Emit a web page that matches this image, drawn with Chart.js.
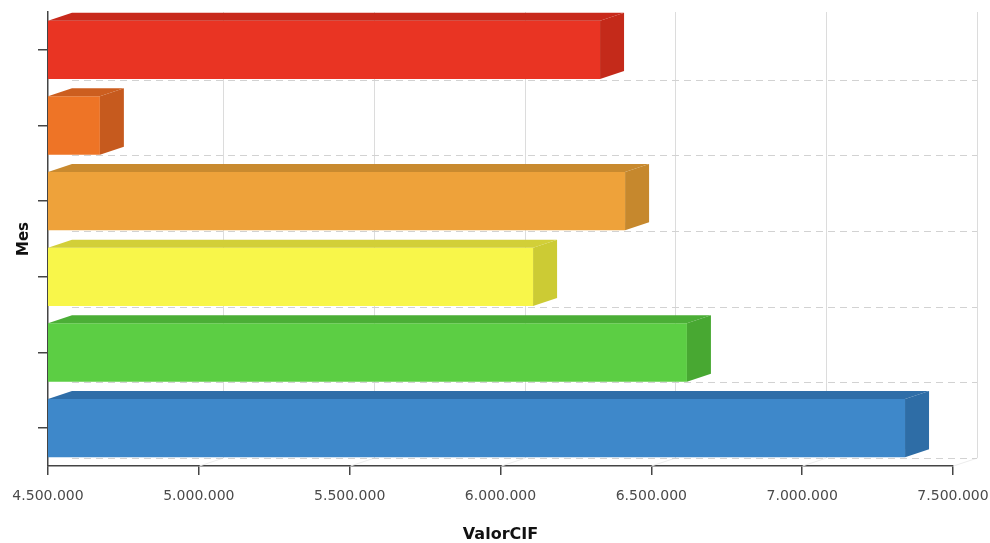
<!doctype html>
<html lang="es">
  <head>
    <meta charset="utf-8">
    <title>ValorCIF por Mes</title>
    <style>
      * {
        margin: 0;
        padding: 0;
      }
      body {
        background: #fff;
      }
    </style>
  </head>
  <body>
    <canvas id="myChart" width="990" height="543"></canvas>
    <script src="https://cdn.jsdelivr.net/npm/chart.js/dist/chart.umd.min.js"></script>
    <script>
    // data
    const meses = ['Enero', 'Febrero', 'Marzo', 'Abril', 'Mayo', 'Junio']
    const valorCIF = [6330000, 4672000, 6413000, 6108000, 6618000, 7341000]
    const xTicks = [4500000, 5000000, 5500000, 6000000, 6500000, 7000000, 7500000]

    // colours: front face, top face, side face
    const frontColors = ['#e93423', '#ee7426', '#eea23a', '#f8f64a', '#5cce44', '#3e88ca']
    const topColors = ['#c8291b', '#cc5e1f', '#c98a2f', '#d2cf38', '#4bae36', '#2f6ea8']
    const sideColors = ['#c42a1a', '#c65a1e', '#c6882d', '#cccb34', '#48a832', '#2e6da6']

    // 3d depth offset
    const DX = 24
    const DY = -8

    const fmt = v => String(v).replace(/\B(?=(\d{3})+(?!\d))/g, '.')

    const depth3d = {
      id: 'depth3d',
      beforeDatasetsDraw(chart) {
        const { ctx, chartArea: a, scales: { x, y } } = chart
        ctx.save()
        ctx.lineWidth = 1

        // back wall vertical grid
        ctx.strokeStyle = '#dcdcdc'
        ctx.beginPath()
        xTicks.forEach(v => {
          const px = Math.round(x.getPixelForValue(v)) + 0.5
          if (px <= a.left + 1) return
          ctx.moveTo(px + DX, a.top)
          ctx.lineTo(px + DX, a.bottom + DY)
        })
        ctx.stroke()

        // floor edges, very faint
        ctx.strokeStyle = '#ececec'
        ctx.beginPath()
        xTicks.forEach(v => {
          const px = Math.round(x.getPixelForValue(v)) + 0.5
          if (px <= a.left + 1) return
          ctx.moveTo(px + DX, a.bottom + DY)
          ctx.lineTo(px, a.bottom)
        })
        ctx.stroke()

        // dashed lines between categories, on the back wall
        const band = (a.bottom - a.top) / meses.length
        ctx.strokeStyle = '#d2d2d2'
        ctx.setLineDash([7, 5])
        ctx.beginPath()
        meses.forEach((m, i) => {
          const py = Math.round(y.getPixelForValue(i) + band / 2 + DY) + 0.5
          ctx.moveTo(a.left + DX, py)
          ctx.lineTo(a.right + DX, py)
        })
        ctx.stroke()
        ctx.restore()
      },
      afterDatasetsDraw(chart) {
        const { ctx, chartArea: a } = chart
        const meta = chart.getDatasetMeta(0)
        ctx.save()
        meta.data.forEach((bar, i) => {
          const { x: right, y: cy, base, height } = bar.getProps(['x', 'y', 'base', 'height'], true)
          const left = Math.max(base, a.left)
          const top = cy - height / 2
          const bottom = cy + height / 2

          // top face
          ctx.fillStyle = topColors[i]
          ctx.beginPath()
          ctx.moveTo(left, top)
          ctx.lineTo(left + DX, top + DY)
          ctx.lineTo(right + DX, top + DY)
          ctx.lineTo(right, top)
          ctx.closePath()
          ctx.fill()

          // side face
          ctx.fillStyle = sideColors[i]
          ctx.beginPath()
          ctx.moveTo(right, top)
          ctx.lineTo(right + DX, top + DY)
          ctx.lineTo(right + DX, bottom + DY)
          ctx.lineTo(right, bottom)
          ctx.closePath()
          ctx.fill()
        })
        ctx.restore()
      }
    }

    const data = {
      labels: meses,
      datasets: [{
        label: 'ValorCIF',
        data: valorCIF,
        backgroundColor: frontColors,
        borderWidth: 0,
        barPercentage: 0.77,
        categoryPercentage: 1
      }]
    }

    const config = {
      type: 'bar',
      data,
      options: {
        indexAxis: 'y',
        responsive: false,
        animation: false,
        layout: {
          padding: { top: 12, right: 37, bottom: 0, left: 0 }
        },
        plugins: {
          legend: { display: false },
          tooltip: { enabled: false }
        },
        scales: {
          x: {
            min: 4500000,
            max: 7500000,
            afterBuildTicks: scale => {
              scale.ticks = xTicks.map(v => ({ value: v }))
            },
            afterFit: scale => {
              scale.height = 77
              // keep the plot edges where the layout padding puts them
              scale.paddingLeft = 0
              scale.paddingRight = 0
            },
            ticks: {
              padding: 13,
              color: '#4a4a4a',
              font: { family: 'DejaVu Sans', size: 14 },
              maxRotation: 0,
              callback: v => fmt(v)
            },
            grid: {
              drawOnChartArea: false,
              drawTicks: true,
              tickLength: 9,
              lineWidth: 1.5,
              color: '#444'
            },
            border: { display: true, color: '#444', width: 1.5 },
            title: {
              display: true,
              text: 'ValorCIF',
              color: '#111',
              font: { family: 'DejaVu Sans', size: 16, weight: 'bold', lineHeight: 1 },
              padding: { top: 0, bottom: 0 }
            }
          },
          y: {
            afterFit: scale => { scale.width = 48 },
            ticks: { display: false },
            grid: {
              offset: false,
              drawOnChartArea: false,
              drawTicks: true,
              tickLength: 10,
              lineWidth: 1.5,
              color: '#444'
            },
            border: { display: true, color: '#444', width: 1.5 },
            title: {
              display: true,
              text: 'Mes',
              color: '#111',
              font: { family: 'DejaVu Sans', size: 15, weight: 'bold', lineHeight: 1 },
              padding: { top: 17, bottom: 0 }
            }
          }
        }
      },
      plugins: [depth3d]
    }

    const ctx = document.getElementById('myChart')
    const myChart = new Chart(ctx, config)
    </script>
  </body>
</html>
